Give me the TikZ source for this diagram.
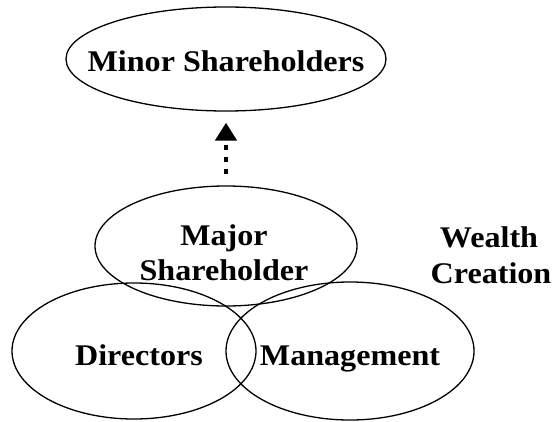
\documentclass[tikz,border=0pt]{standalone}
\usepackage{fontspec}
\setmainfont[FakeStretch=1.07]{Liberation Serif}
\usetikzlibrary{arrows.meta,shapes.geometric}
\begin{document}
\begin{tikzpicture}[x=1pt,y=1pt,
  oval/.style={draw,ellipse,line width=1.3pt,inner sep=0pt},
  lbl/.style={anchor=base,inner sep=0pt,font=\fontsize{30}{35}\selectfont\bfseries},
  dotarrow/.style={line width=4.5pt,dash pattern=on 5pt off 7pt,
    -{Triangle[width=21pt,length=18pt]}}]
\useasboundingbox (0,0) rectangle (553,421);
\node[oval,minimum width=320pt,minimum height=104pt] (minor) at (226,362) {};
\node[oval,minimum width=262pt,minimum height=120pt] (major) at (226,175) {};
\node[oval,minimum width=244pt,minimum height=136pt] (dir) at (134,70) {};
\node[oval,minimum width=248pt,minimum height=138pt] (mgmt) at (350,70) {};
\node[lbl] (tminor) at (226,349) {Minor Shareholders};
\node[lbl] (tmajor1) at (224,176) {Major};
\node[lbl] (tmajor2) at (224,141) {Shareholder};
\node[lbl] (tdir) at (139,56) {Directors};
\node[lbl] (tmgmt) at (350,56) {Management};
\node[lbl] (tw1) at (489,174) {Wealth};
\node[lbl] (tw2) at (491,138) {Creation};
\draw[dotarrow,shorten <=11pt,shorten >=11pt] (major.north) -- (minor.south);
\end{tikzpicture}
\end{document}
